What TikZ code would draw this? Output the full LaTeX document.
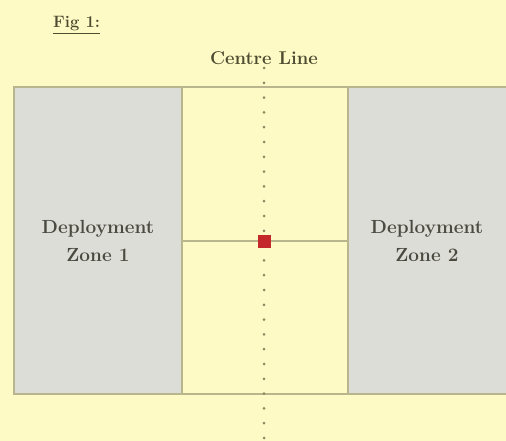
\documentclass[tikz,border=0pt]{standalone}
\usetikzlibrary{positioning}
\definecolor{bgyellow}{HTML}{FEFAC6}
\definecolor{zonegray}{HTML}{DDDDD8}
\definecolor{edgeolive}{HTML}{B9B58C}
\definecolor{dotolive}{HTML}{8C8A62}
\definecolor{markred}{HTML}{C3282A}
\definecolor{textdark}{HTML}{4A4A40}
\definecolor{textolive}{HTML}{4E4C30}
\tikzset{
  zone/.style={draw=edgeolive, line width=1.6pt, fill=zonegray, inner sep=0pt,
    align=center, text=textdark, font=\fontsize{19}{28}\selectfont\bfseries},
  label text/.style={text=textolive, font=\fontsize{18.5}{22}\selectfont\bfseries, inner sep=0pt},
  divider/.style={draw=edgeolive, line width=1.6pt},
  centreline/.style={draw=dotolive, line width=3pt, line cap=round, dash pattern=on 0pt off 14.8pt},
  marker/.style={fill=markred, minimum width=13pt, minimum height=13pt, inner sep=0pt}
}
\begin{document}
\begin{tikzpicture}[x=1pt,y=-1pt]
\path[use as bounding box, fill=bgyellow] (0,0) rectangle (506,441);
% outer field
\draw[divider] (14,87) rectangle (510,394);
% deployment zones
\node[zone, minimum width=168pt, minimum height=307pt] (z1) at (98,240.5) {Deployment\\Zone 1};
\node[zone, minimum width=166pt, minimum height=307pt] (z2) at (431,240.5) {\hspace*{-8pt}Deployment\\\hspace*{-8pt}Zone 2};
% middle divider
\draw[divider] (z1.east |- 0,241) -- (z2.west |- 0,241);
% centre line
\coordinate (cltop) at (264,68);
\coordinate (clbot) at (264,441);
\draw[centreline] (cltop) -- (clbot);
\node[marker] (mark) at (264,241) {};
\node[label text, anchor=base] (cl) at (264,65) {Centre Line};
\node[label text, anchor=base west, font=\fontsize{16.5}{20}\selectfont\bfseries] (fig) at (53,28) {\underline{Fig 1:}};
\end{tikzpicture}
\end{document}
